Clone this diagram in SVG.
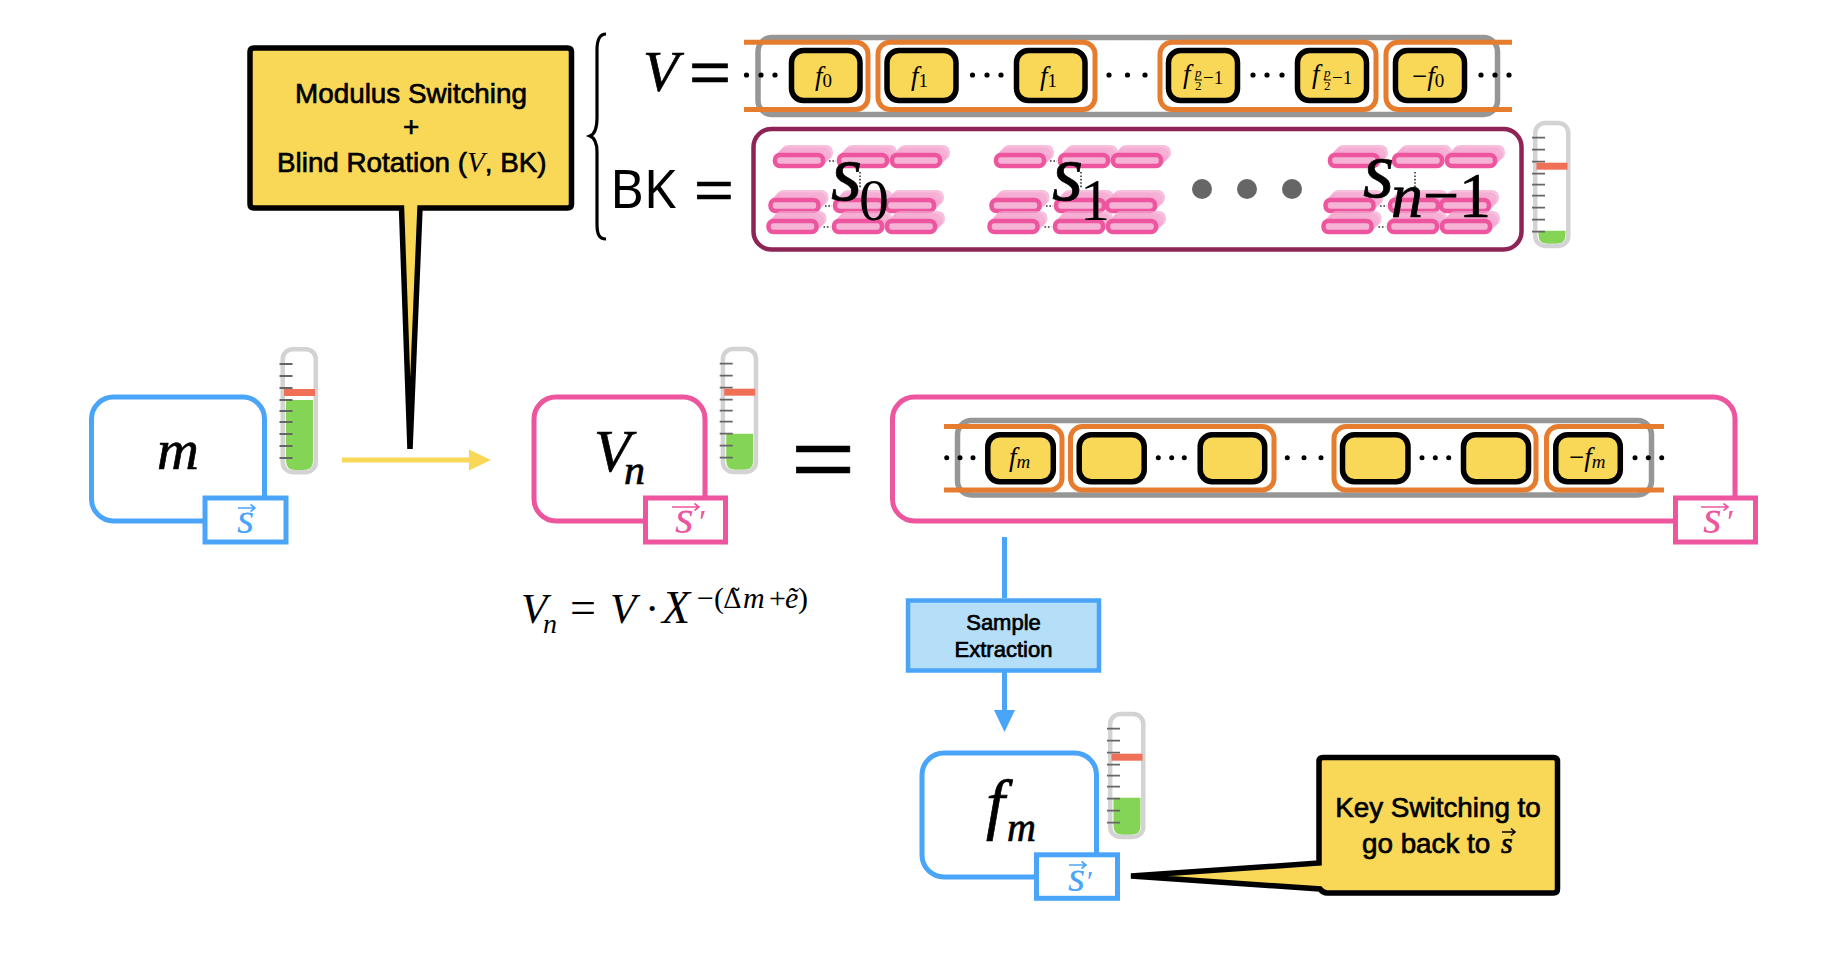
<svg xmlns="http://www.w3.org/2000/svg" width="1828" height="954" viewBox="0 0 1828 954">
<style>
text{fill:#000}
.mi{font-family:"Liberation Serif","DejaVu Serif",serif;font-style:italic}
.mr{font-family:"Liberation Serif","DejaVu Serif",serif}
.hv{stroke:#000;stroke-width:.7}
.sa{font-family:"Liberation Sans",Arial,sans-serif;stroke:#000;stroke-width:.7}
.c{text-anchor:middle}
.gray{fill:#fff;stroke:#969696;stroke-width:5.500}
.or{fill:none;stroke:#E67C2E;stroke-width:5}
.yl{fill:#F9D858;stroke:#000;stroke-width:5.500}
.dot{fill:#000}
.pinkb{fill:#fff;stroke:#EE559F;stroke-width:5}
.blueb{fill:#fff;stroke:#4AA5F9;stroke-width:5}
.pt{fill:#EE559F}.bt{fill:#4AA5F9}
.varr{fill:none;stroke-width:1.6}
.callout{fill:#F9D858;stroke:#000;stroke-width:5.500;stroke-linejoin:miter;stroke-miterlimit:4}
.bar{fill:#F5B3D6;stroke:#EE559F;stroke-width:4.500}
.shade{fill:#F7BCDC;stroke:#F5A6D0;stroke-width:4;opacity:.7}
.tick{stroke:#666;stroke-width:1.8}
</style>
<defs>
<g id="bar">
<rect class="shade" x="8" y="-8" width="48" height="11" rx="5"/>
<rect class="shade" x="5.500" y="-5.500" width="48" height="11" rx="5"/>
<rect class="shade" x="2.500" y="-2.500" width="48" height="11" rx="5"/>
<rect class="bar" x="0" y="0" width="48" height="11" rx="5"/>
</g>
<g id="cluster">
<use href="#bar" x="775" y="155"/><use href="#bar" x="839" y="155"/><use href="#bar" x="892" y="155"/>
<use href="#bar" x="770.500" y="200"/><use href="#bar" x="835" y="200"/><use href="#bar" x="886" y="200"/>
<use href="#bar" x="768.500" y="221"/><use href="#bar" x="834" y="221"/><use href="#bar" x="887" y="221"/>
<path d="M829 161H836M825 206H832M823.500 227H830.500M860 172V188" fill="none" stroke="#333" stroke-width="1.600" stroke-dasharray="1.600 1.800"/>
</g>
<g id="therm">
<rect x="2.200" y="2.200" width="33.100" height="123" rx="10" fill="none" stroke="#D3D3D3" stroke-width="4.500"/>
<path class="tick" d="M-1 17H12M-1 29H12M-1 41H12M-1 53H12M-1 64H12M-1 75H12M-1 87H12M-1 99H12M-1 111H12"/>
<rect x="3.500" y="42" width="31" height="7" fill="#EF6F57"/>
</g>
</defs>

<g id="connectors">
<path d="M342 460H472" stroke="#F9D858" stroke-width="5" fill="none"/>
<path d="M469 449.500L491 460L469 470.500Z" fill="#F9D858"/>
<path d="M1004.500 537V598" stroke="#4AA5F9" stroke-width="5" fill="none"/>
<path d="M1004.500 672V712" stroke="#4AA5F9" stroke-width="5" fill="none"/>
<path d="M994 710L1004.500 732L1015 710Z" fill="#4AA5F9"/>
</g>

<g id="brace">
<path d="M606 34C599 34 597 40 597 50V118C597 128 595 134 590 136C595 138 597 143 597 152V224C597 234 599 239 606 239" fill="none" stroke="#000" stroke-width="3.200"/>
</g>

<g id="callout-ms">
<path class="callout" d="M254 48H567.500Q571.500 48 571.500 52V204Q571.500 208 567.500 208H420L410 449L401.500 208H254Q250 208 250 204V52Q250 48 254 48Z"/>
<text class="sa c" x="411" y="103" font-size="27.800">Modulus Switching</text>
<text class="sa c" x="411" y="136" font-size="27.800">+</text>
<text class="sa" x="277" y="172" font-size="27.800">Blind Rotation (<tspan class="mi" stroke="none" font-size="29">V</tspan>, BK)</text>
</g>

<g id="v-label">
<text class="mi hv" x="643" y="91" font-size="58">V</text>
<text class="sa" transform="translate(689 92) scale(1 .8)" font-size="72" stroke-width="1.300">=</text>
</g>

<g id="v-row">
<rect class="gray" x="758" y="37.500" width="739.500" height="77" rx="14"/>
<path class="or" d="M744 42.300H856a12 12 0 0 1 12 12V97.500a12 12 0 0 1 -12 12H744"/>
<rect class="or" x="878" y="42.300" width="217" height="67.200" rx="12"/>
<rect class="or" x="1160" y="42.300" width="216" height="67.200" rx="12"/>
<path class="or" d="M1512 42.300H1398a12 12 0 0 0 -12 12V97.500a12 12 0 0 0 12 12H1512"/>
<g id="v0"><rect class="yl" x="791.500" y="50.500" width="68.500" height="50" rx="12"/><text class="mi" x="815" y="85" font-size="27">f<tspan class="mr" font-size="19" dy="2" font-style="normal">0</tspan></text></g>
<g id="v1"><rect class="yl" x="887" y="50.500" width="69" height="50" rx="12"/><text class="mi" x="911" y="85" font-size="27">f<tspan class="mr" font-size="19" dy="2" font-style="normal">1</tspan></text></g>
<g id="v2"><rect class="yl" x="1016.500" y="50.500" width="68.500" height="50" rx="12"/><text class="mi" x="1040" y="85" font-size="27">f<tspan class="mr" font-size="19" dy="2" font-style="normal">1</tspan></text></g>
<g id="v3"><rect class="yl" x="1168.500" y="50.500" width="69" height="50" rx="12"/><text class="mi" x="1183" y="83" font-size="27">f</text><text class="mi" x="1195" y="76.500" font-size="13">p</text><path d="M1195 80H1202" stroke="#000" stroke-width="1"/><text class="mr" x="1195" y="89.500" font-size="13">2</text><text class="mr" x="1203" y="84" font-size="19">−1</text></g>
<g id="v4"><rect class="yl" x="1297.500" y="50.500" width="69" height="50" rx="12"/><text class="mi" x="1312" y="83" font-size="27">f</text><text class="mi" x="1324" y="76.500" font-size="13">p</text><path d="M1324 80H1331" stroke="#000" stroke-width="1"/><text class="mr" x="1324" y="89.500" font-size="13">2</text><text class="mr" x="1332" y="84" font-size="19">−1</text></g>
<g id="v5"><rect class="yl" x="1395.500" y="50.500" width="69" height="50" rx="12"/><text class="mr" x="1412" y="85" font-size="27">−<tspan class="mi">f</tspan><tspan font-size="19" dy="2">0</tspan></text></g>
<g class="dot">
<circle cx="746.500" cy="75" r="2.600"/><circle cx="761" cy="75" r="2.600"/><circle cx="775" cy="75" r="2.600"/>
<circle cx="972.500" cy="75" r="2.600"/><circle cx="987" cy="75" r="2.600"/><circle cx="1001" cy="75" r="2.600"/>
<circle cx="1109" cy="75" r="2.600"/><circle cx="1127.500" cy="75" r="2.600"/><circle cx="1145" cy="75" r="2.600"/>
<circle cx="1253" cy="75" r="2.600"/><circle cx="1267" cy="75" r="2.600"/><circle cx="1282" cy="75" r="2.600"/>
<circle cx="1481" cy="75" r="2.600"/><circle cx="1495" cy="75" r="2.600"/><circle cx="1509" cy="75" r="2.600"/>
</g>
</g>

<g id="bk-label">
<text font-family="'Noto Sans','Liberation Sans',sans-serif" x="610" y="208" font-size="52">BK</text>
<text class="sa" transform="translate(694 208) scale(1 .8)" font-size="68" stroke-width="1.300">=</text>
</g>

<g id="bk-box">
<rect x="753.500" y="129" width="768" height="120.500" rx="18" fill="#fff" stroke="#8E2355" stroke-width="4.500"/>
<use href="#cluster"/>
<use href="#cluster" x="221"/>
<use href="#cluster" x="555"/>
<text class="mi hv" x="831" y="200" font-size="80">s</text><text class="mr" x="859" y="220" font-size="60">0</text>
<text class="mi hv" x="1052" y="200" font-size="80">s</text><text class="mr" x="1080" y="220" font-size="60">1</text>
<text class="mi hv" x="1363" y="197" font-size="80">s</text><text class="mi hv" x="1391" y="217" font-size="64">n<tspan class="mr" font-style="normal">−1</tspan></text>
<circle cx="1202" cy="189" r="10" fill="#666"/><circle cx="1247" cy="189" r="10" fill="#666"/><circle cx="1292" cy="189" r="10" fill="#666"/>
</g>

<g id="noise-top" transform="translate(1533 120.700)">
<path d="M5.500 110H32.500V114Q32.500 123 23 123H15Q5.500 123 5.500 114Z" fill="#84D455"/><use href="#therm"/>
</g>

<g id="node-m">
<rect class="blueb" x="91.500" y="397" width="173" height="124" rx="22"/>
<text class="mi hv c" x="178" y="469" font-size="58">m</text>
<rect class="blueb" x="205" y="498" width="81" height="44"/>
<text class="mi bt" x="237" y="533" font-size="44">s</text>
<path class="varr" stroke="#4AA5F9" d="M238 508H255M250.500 504.500L255 508L250.500 511.500"/>
</g>
<g id="noise-m" transform="translate(280.500 347)">
<path d="M5.500 53H32.500V114Q32.500 123 23 123H15Q5.500 123 5.500 114Z" fill="#84D455"/><use href="#therm"/>
</g>

<g id="node-vn">
<rect class="pinkb" x="534" y="397" width="171" height="124" rx="22"/>
<text class="mi hv" x="594" y="471" font-size="60">V</text><text class="mi hv" x="624" y="484" font-size="42">n</text>
<rect class="pinkb" x="645.500" y="498" width="80" height="44"/>
<text class="mi pt" x="675" y="533" font-size="48">s</text><text class="mi pt" x="697" y="533" font-size="34">′</text>
<path class="varr" stroke="#EE559F" d="M672 507H699M694.500 503.500L699 507L694.500 510.500"/>
</g>
<g id="noise-vn" transform="translate(720.700 346.700)">
<path d="M5.500 87H32.500V114Q32.500 123 23 123H15Q5.500 123 5.500 114Z" fill="#84D455"/><use href="#therm"/>
</g>

<g id="equals">
<text class="sa" transform="translate(791 487) scale(1 .75)" font-size="110" stroke-width="0">=</text>
</g>

<g id="formula">
<text class="mi" x="521" y="622.500" font-size="43">V</text>
<text class="mi" x="543" y="632.500" font-size="28">n</text>
<text class="mr" x="570" y="622.500" font-size="46">=</text>
<text class="mi" x="610" y="622.500" font-size="43">V</text>
<text class="mr" x="645" y="622.500" font-size="43">·</text>
<text class="mi" x="662" y="622.500" font-size="46">X</text>
<text class="mr" x="697" y="608" font-size="30">−(</text>
<text x="723" y="608" font-size="26" font-family="'DejaVu Serif',serif">Δ̃</text>
<text class="mi" x="743" y="608" font-size="30">m</text>
<text class="mr" x="769" y="608" font-size="30">+</text>
<text class="mi" x="785" y="608" font-size="30">ẽ</text>
<text class="mr" x="798" y="608" font-size="30">)</text>
</g>

<g id="node-vn-expanded">
<rect class="pinkb" x="892.500" y="397" width="842.500" height="124" rx="22"/>
<rect class="gray" x="957.500" y="420.500" width="694" height="74.500" rx="14"/>
<path class="or" d="M944 426.500H1050a12 12 0 0 1 12 12V478a12 12 0 0 1 -12 12H944"/>
<rect class="or" x="1070.500" y="426.500" width="203.500" height="63.500" rx="12"/>
<rect class="or" x="1334" y="426.500" width="202" height="63.500" rx="12"/>
<path class="or" d="M1664 426.500H1558.500a12 12 0 0 0 -12 12V478a12 12 0 0 0 12 12H1664"/>
<g id="e0"><rect class="yl" x="987.800" y="434.800" width="65.500" height="47" rx="12"/><text class="mi" x="1009" y="466" font-size="27">f<tspan font-size="19" dy="2">m</tspan></text></g>
<rect class="yl" x="1079.200" y="434.800" width="65" height="47" rx="12"/>
<rect class="yl" x="1200.200" y="434.800" width="64.500" height="47" rx="12"/>
<rect class="yl" x="1342.500" y="434.800" width="65.500" height="47" rx="12"/>
<rect class="yl" x="1463.500" y="434.800" width="65" height="47" rx="12"/>
<g id="e5"><rect class="yl" x="1555.800" y="434.800" width="64.500" height="47" rx="12"/><text class="mr" x="1569" y="466" font-size="27">−<tspan class="mi">f</tspan><tspan class="mi" font-size="19" dy="2">m</tspan></text></g>
<g class="dot">
<circle cx="946.700" cy="457.700" r="2.500"/><circle cx="960" cy="457.700" r="2.500"/><circle cx="973" cy="457.700" r="2.500"/>
<circle cx="1158.300" cy="457.700" r="2.500"/><circle cx="1171.700" cy="457.700" r="2.500"/><circle cx="1184.300" cy="457.700" r="2.500"/>
<circle cx="1287.300" cy="457.700" r="2.500"/><circle cx="1304" cy="457.700" r="2.500"/><circle cx="1321" cy="457.700" r="2.500"/>
<circle cx="1422" cy="457.700" r="2.500"/><circle cx="1435.300" cy="457.700" r="2.500"/><circle cx="1448.700" cy="457.700" r="2.500"/>
<circle cx="1635" cy="457.700" r="2.500"/><circle cx="1648.300" cy="457.700" r="2.500"/><circle cx="1661.700" cy="457.700" r="2.500"/>
</g>
<rect class="pinkb" x="1675.500" y="498" width="80" height="44"/>
<text class="mi pt" x="1703" y="533" font-size="48">s</text><text class="mi pt" x="1725" y="533" font-size="34">′</text>
<path class="varr" stroke="#EE559F" d="M1701 507H1728M1723.500 503.500L1728 507L1723.500 510.500"/>
</g>

<g id="sample-extraction">
<rect x="908" y="600.500" width="191" height="70" fill="#B5DFF8" stroke="#4AA5F9" stroke-width="4.500"/>
<text class="sa c" x="1003.500" y="630" font-size="22">Sample</text>
<text class="sa c" x="1003.500" y="657" font-size="22">Extraction</text>
</g>

<g id="node-fm">
<rect class="blueb" x="922" y="753" width="174.500" height="124" rx="22"/>
<text class="mi hv" x="986" y="827" font-size="68">f</text><text class="mi hv" x="1007" y="841" font-size="40">m</text>
<rect class="blueb" x="1036.500" y="854.800" width="81" height="43.500"/>
<text class="mi bt" x="1068" y="891" font-size="44">s</text><text class="mi bt" x="1085" y="891" font-size="30">′</text>
<path class="varr" stroke="#4AA5F9" d="M1069 865H1086M1081.500 861.500L1086 865L1081.500 868.500"/>
</g>
<g id="noise-fm" transform="translate(1108 711.700)">
<path d="M5.500 86H32.500V114Q32.500 123 23 123H15Q5.500 123 5.500 114Z" fill="#84D455"/><use href="#therm"/>
</g>

<g id="callout-ks">
<path class="callout" d="M1323 757.500H1553.500Q1557.500 757.500 1557.500 761.500V889Q1557.500 893 1553.500 893H1327Q1323 893 1320 889L1131 876L1319 863V761.500Q1319 757.500 1323 757.500Z"/>
<text class="sa c" x="1438" y="817" font-size="27.800">Key Switching to</text>
<text class="sa" x="1362" y="853" font-size="27.800">go back to</text>
<text class="mi hv" x="1501" y="853" font-size="30">s</text>
<path class="varr" stroke="#000" d="M1502 832H1515M1511 828.500L1515 832L1511 835.500"/>
</g>
</svg>
